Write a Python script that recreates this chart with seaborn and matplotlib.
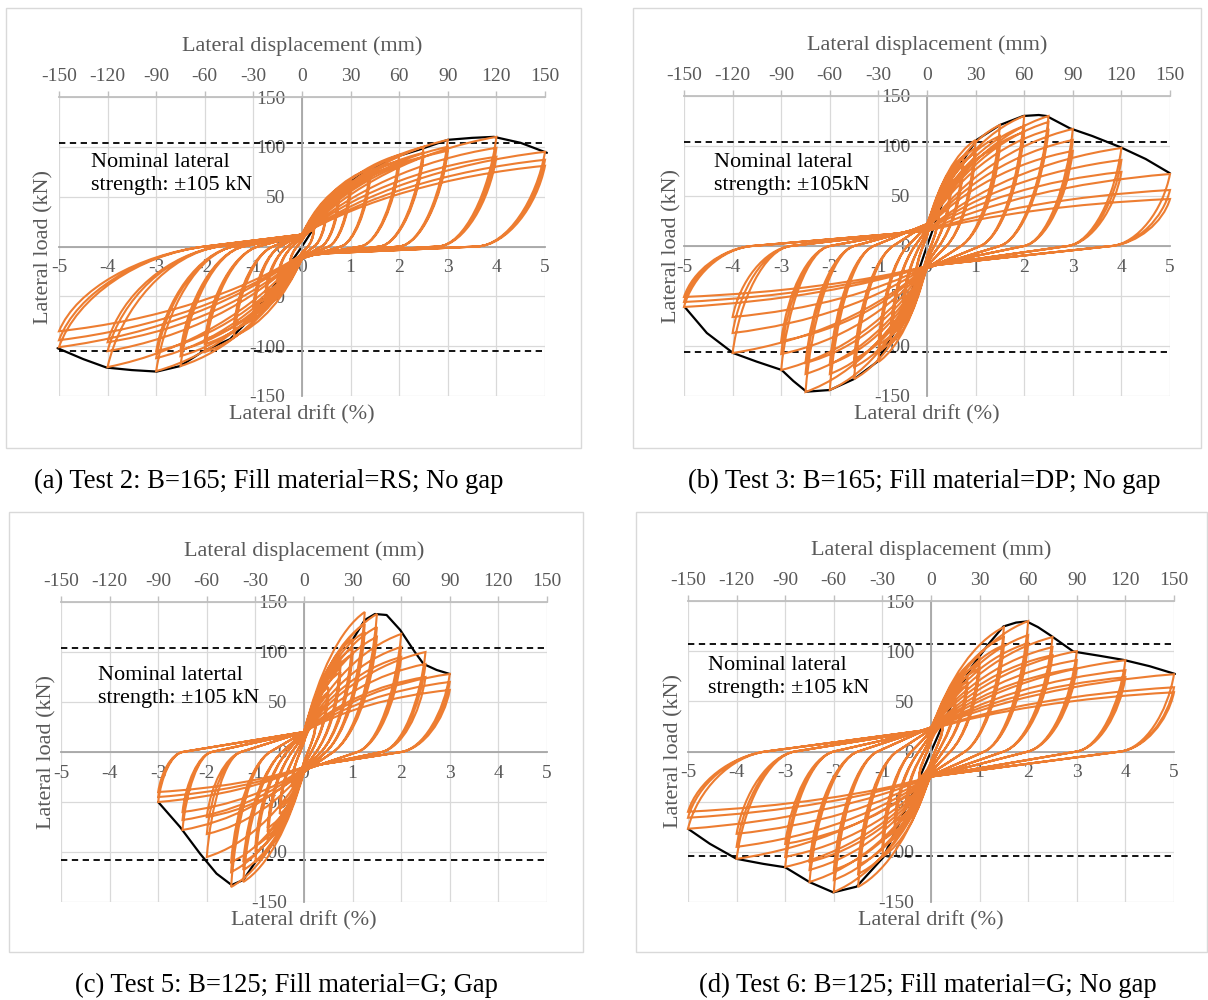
import numpy as np
import pandas as pd
import matplotlib
matplotlib.use("Agg")
import matplotlib.pyplot as plt
from matplotlib.path import Path
from matplotlib.patches import PathPatch, Rectangle
import seaborn as sns

# ---- data (drift in %, load in kN) ----
# three cycles per drift level; residual drift at zero load and load at zero drift per level

# (a) Test 2
a_levels = [0.25, 0.5, 0.75, 1.0, 1.4, 2.0, 2.5, 3.0, 4.0, 5.0]
a_pos_load = [20, 18, 17, 36, 33, 31, 50, 46, 43, 65, 60, 56, 78, 72, 68,
              92, 86, 82, 100, 94, 90, 107, 100, 96, 110, 99, 90, 95, 87, 81]
a_neg_load = [-18, -17, -16, -35, -32, -30, -52, -48, -45, -68, -62, -58, -90, -83, -78,
              -106, -98, -93, -120, -110, -104, -125, -112, -105, -121, -105, -96, -101, -94, -85]
a_res_pos = [0.12, 0.25, 0.4, 0.55, 0.8, 1.2, 1.6, 2.0, 2.8, 3.6]
a_res_neg = [-0.1, -0.2, -0.3, -0.45, -0.6, -0.9, -1.2, -1.4, -1.7, -2.0]
a_int_pos = [6, 9, 11, 12, 12, 12, 12, 12, 12, 12]
a_int_neg = [-6, -9, -11, -12, -12, -10, -10, -9, -8, -8]
a_env_pos_drift = [0, 0.5, 1.0, 1.4, 2.0, 2.4, 3.0, 3.5, 3.95, 4.5, 5.04]
a_env_pos_load = [0, 38, 65, 78, 91, 97, 107, 109, 110, 104, 94]
a_env_neg_drift = [0, -0.5, -1.14, -1.48, -2.03, -2.51, -2.99, -3.5, -4.02, -4.5, -5.03]
a_env_neg_load = [0, -35, -76, -93, -105, -120, -125.5, -124, -121.5, -113, -102]
a_nominal = [104, -104.5]

# (b) Test 3
b_levels = [0.25, 0.5, 0.75, 1.0, 1.5, 2.0, 2.5, 3.0, 4.0, 5.0]
b_pos_load = [40, 37, 35, 68, 63, 60, 90, 84, 80, 106, 98, 93, 121, 110, 100,
              130, 120, 114, 130, 124, 116, 117, 106, 95, 98, 86, 74, 72, 56, 47]
b_neg_load = [-42, -38, -36, -72, -66, -62, -98, -90, -85, -116, -106, -99, -133, -121, -113,
              -144, -128, -118, -146, -128, -117, -124, -108, -95, -107, -87, -71, -61, -56, -51]
b_res_pos = [0.08, 0.15, 0.25, 0.4, 0.7, 1.1, 1.5, 2.0, 2.9, 3.8]
b_res_neg = [-0.08, -0.15, -0.25, -0.4, -0.7, -1.1, -1.5, -2.0, -2.8, -3.6]
b_int_pos = [10, 14, 17, 20, 22, 22, 20, 18, 16, 15]
b_int_neg = [-10, -14, -17, -20, -22, -22, -22, -20, -20, -20]
b_env_pos_drift = [0, 0.5, 1.02, 1.5, 1.98, 2.3, 2.46, 2.94, 3.4, 3.97, 4.5, 5.0]
b_env_pos_load = [0, 68, 106, 121, 130, 131, 130, 117.7, 110, 99, 87, 72.7]
b_env_neg_drift = [0, -0.5, -1.03, -1.5, -2.0, -2.48, -2.75, -2.99, -3.5, -3.99, -4.53, -4.99]
b_env_neg_load = [0, -72, -116, -133, -144, -145.7, -135, -124, -115.7, -107, -87, -60.7]
b_nominal = [104, -106]

# (c) Test 5
c_levels = [0.25, 0.5, 0.75, 1.0, 1.25, 1.5, 2.0, 2.5, 3.0]
c_pos_load = [35, 32, 30, 65, 60, 57, 92, 85, 80, 113, 104, 98, 140, 128, 120,
              138, 125, 115, 118, 105, 95, 100, 88, 75, 78, 70, 62]
c_neg_load = [-35, -32, -30, -62, -57, -54, -88, -80, -76, -110, -100, -94, -130, -118, -110,
              -135, -120, -110, -105, -82, -65, -78, -68, -60, -50, -45, -40]
c_res_pos = [0.08, 0.15, 0.25, 0.35, 0.45, 0.6, 1.1, 1.6, 2.0]
c_res_neg = [-0.08, -0.15, -0.25, -0.35, -0.45, -0.7, -1.3, -1.9, -2.5]
c_int_pos = [10, 14, 17, 20, 20, 20, 20, 20, 20]
c_int_neg = [-10, -14, -17, -18, -20, -20, -18, -16, -15]
c_env_pos_drift = [1.01, 1.25, 1.46, 1.7, 1.98, 2.28, 2.46, 2.73, 3.0]
c_env_pos_load = [113, 132, 138, 137, 122, 100, 88, 82, 78]
c_env_neg_drift = [-1.0, -1.25, -1.49, -1.8, -2.14, -2.55, -3.0]
c_env_neg_load = [-110, -128, -133, -121.6, -101.6, -75, -50]
c_nominal = [104, -108]

# (d) Test 6
d_levels = [0.25, 0.5, 0.75, 1.0, 1.5, 2.0, 2.5, 3.0, 4.0, 5.0]
d_pos_load = [30, 28, 26, 55, 51, 48, 75, 70, 66, 95, 88, 83, 124, 114, 106,
              130, 116, 108, 114, 104, 96, 100, 91, 83, 91, 81, 74, 77, 64, 59]
d_neg_load = [-30, -28, -26, -55, -51, -48, -80, -74, -70, -105, -95, -88, -135, -122, -113,
              -140, -128, -118, -130, -118, -110, -115, -105, -92, -107, -95, -82, -77, -66, -60]
d_res_pos = [0.08, 0.15, 0.25, 0.4, 0.7, 1.1, 1.5, 2.0, 3.0, 3.9]
d_res_neg = [-0.08, -0.15, -0.25, -0.4, -0.7, -1.1, -1.5, -2.0, -2.8, -3.4]
d_int_pos = [10, 14, 17, 20, 22, 24, 24, 22, 22, 22]
d_int_neg = [-10, -14, -17, -20, -22, -24, -25, -25, -25, -25]
d_env_pos_drift = [0, 0.5, 0.84, 1.2, 1.49, 1.75, 1.97, 2.2, 2.45, 2.93, 3.48, 3.96, 4.5, 5.02]
d_env_pos_load = [0, 55, 84.6, 108, 124.6, 128.5, 129.6, 124, 116, 99.6, 95.3, 91.3, 85, 77.3]
d_env_neg_drift = [0, -0.5, -0.98, -1.53, -2.01, -2.49, -3.0, -3.45, -4.0, -4.55, -5.0]
d_env_neg_load = [0, -55, -105.4, -134.7, -140.4, -130.4, -115.4, -112, -107, -92, -77]
d_nominal = [107, -104]

drift_ticks = list(range(-5, 6))
load_ticks = list(range(-150, 151, 50))
disp_ticks = list(range(-150, 151, 30))

captions = ["(a) Test 2: B=165; Fill material=RS; No gap",
            "(b) Test 3: B=165; Fill material=DP; No gap",
            "(c) Test 5: B=125; Fill material=G; Gap",
            "(d) Test 6: B=125; Fill material=G; No gap"]
notes = ["Nominal lateral\nstrength: \u00b1105 kN",
         "Nominal lateral\nstrength: \u00b1105kN",
         "Nominal latertal\nstrength: \u00b1105 kN",
         "Nominal lateral\nstrength: \u00b1105 kN"]

# ---- layout (pixels of a 1208 x 1000 canvas) ----
W, H = 1208, 1000
ax_px = [(59, 97, 545, 396), (684, 96, 1170, 396), (61, 602, 547, 902), (688, 601, 1174, 902)]
frame_px = [(6, 8, 581, 448), (633, 8, 1201, 448), (9, 512, 583, 952), (636, 512, 1207, 952)]
caption_px = [(269, 481), (924, 481), (286, 985), (928, 985)]
note_pos = [(-4.34, 73), (-4.38, 72), (-4.24, 65), (-4.59, 74)]
ylabel_x = [-0.031, -0.026, -0.029, -0.030]

ORANGE = "#ED7D31"
GRAY_TXT = "#595959"

panels = [
    (a_levels, a_pos_load, a_neg_load, a_res_pos, a_res_neg, a_int_pos, a_int_neg,
     a_env_pos_drift, a_env_pos_load, a_env_neg_drift, a_env_neg_load, a_nominal),
    (b_levels, b_pos_load, b_neg_load, b_res_pos, b_res_neg, b_int_pos, b_int_neg,
     b_env_pos_drift, b_env_pos_load, b_env_neg_drift, b_env_neg_load, b_nominal),
    (c_levels, c_pos_load, c_neg_load, c_res_pos, c_res_neg, c_int_pos, c_int_neg,
     c_env_pos_drift, c_env_pos_load, c_env_neg_drift, c_env_neg_load, c_nominal),
    (d_levels, d_pos_load, d_neg_load, d_res_pos, d_res_neg, d_int_pos, d_int_neg,
     d_env_pos_drift, d_env_pos_load, d_env_neg_drift, d_env_neg_load, d_nominal),
]


def cycle_path(dp, fp, dn, fn, rp, rn, ip, ineg):
    """One pinched hysteresis cycle through the read peak / residual / intercept points."""
    verts = [(0, ip)]
    codes = [Path.MOVETO]
    # reload to positive peak
    verts += [(dp * 0.25, ip + (fp - ip) * 0.5), (dp * 0.6, ip + (fp - ip) * 0.86), (dp, fp)]
    codes += [Path.CURVE4] * 3
    # rounded unloading to zero load, then pinched branch through zero drift
    span = dp - rp
    slope = -ineg / rp
    verts += [(dp - span * 0.12, fp * 0.5), (rp + span * 0.45, span * 0.45 * slope), (rp, 0)]
    codes += [Path.CURVE4] * 3
    verts += [(0, ineg)]
    codes += [Path.LINETO]
    # reload to negative peak
    verts += [(dn * 0.25, ineg + (fn - ineg) * 0.5), (dn * 0.6, ineg + (fn - ineg) * 0.86), (dn, fn)]
    codes += [Path.CURVE4] * 3
    span = rn - dn
    slope = ip / -rn
    verts += [(dn + span * 0.12, fn * 0.5), (rn - span * 0.45, -span * 0.45 * slope), (rn, 0)]
    codes += [Path.CURVE4] * 3
    verts += [(0, ip)]
    codes += [Path.LINETO]
    return verts, codes


sns.set_theme(style="white")
plt.rcParams["font.family"] = ["Liberation Serif", "DejaVu Serif"]
plt.rcParams["axes.unicode_minus"] = False

fig = plt.figure(figsize=(W / 100, H / 100), dpi=100)

for i, p in enumerate(panels):
    (levels, pos_load, neg_load, res_pos, res_neg, int_pos, int_neg,
     epd, epl, end_, enl, nominal) = p

    fx0, fy0, fx1, fy1 = frame_px[i]
    fig.add_artist(Rectangle((fx0 / W, 1 - fy1 / H), (fx1 - fx0) / W, (fy1 - fy0) / H,
                             transform=fig.transFigure, fill=False,
                             edgecolor="#d9d9d9", lw=1.0))

    x0, y0, x1, y1 = ax_px[i]
    ax = fig.add_axes([x0 / W, 1 - y1 / H, (x1 - x0) / W, (y1 - y0) / H])
    ax.set_facecolor("none")
    ax.set_xlim(-5, 5)
    ax.set_ylim(-150, 150)
    ax.set_axisbelow(True)
    ax.grid(True, color="#d9d9d9", lw=0.9)

    # hysteresis loops
    verts, codes = [], []
    for k, lev in enumerate(levels):
        for j in range(3):
            idx = 3 * k + j
            v, c = cycle_path(lev, pos_load[idx], -lev, neg_load[idx],
                              res_pos[k], res_neg[k], int_pos[k], int_neg[k])
            verts += v
            codes += c
    ax.add_patch(PathPatch(Path(verts, codes), fill=False, edgecolor=ORANGE,
                           lw=1.5, zorder=3, clip_on=False))

    # backbone envelope
    env_pos = pd.DataFrame({"drift": epd, "load": epl})
    env_neg = pd.DataFrame({"drift": end_, "load": enl})
    for env in (env_pos, env_neg):
        sns.lineplot(data=env, x="drift", y="load", sort=False, estimator=None,
                     color="black", lw=1.6, ax=ax, zorder=2.5, clip_on=False)

    # nominal strength
    for lvl in nominal:
        ax.axhline(lvl, color="black", lw=1.3, ls=(0, (3.5, 2.5)), zorder=2.4)

    ax.text(note_pos[i][0], note_pos[i][1], notes[i], ha="left", va="center",
            fontsize=16, color="black", linespacing=1.3, zorder=4)

    # axes through the origin
    for s in ("top", "right"):
        ax.spines[s].set_visible(False)
    ax.spines["left"].set_position(("data", 0))
    ax.spines["bottom"].set_position(("data", 0))
    for s in ("left", "bottom"):
        ax.spines[s].set_color("#a6a6a6")
        ax.spines[s].set_linewidth(1.3)
    ax.set_xticks(drift_ticks)
    ax.set_yticks(load_ticks)
    ax.tick_params(axis="both", length=0, labelsize=14, labelcolor=GRAY_TXT)
    ax.tick_params(axis="y", pad=12)
    ax.tick_params(axis="x", pad=9)

    ax.set_xlabel("Lateral drift (%)", fontsize=16, color=GRAY_TXT, va="center")
    ax.xaxis.set_label_coords(0.5, -0.064)
    ax.set_ylabel("Lateral load (kN)", fontsize=16, color=GRAY_TXT, va="center")
    ax.yaxis.set_label_coords(ylabel_x[i], 0.5)

    # displacement axis on top
    top = ax.twiny()
    top.set_xlim(-150, 150)
    top.set_xticks(disp_ticks)
    for s in ("left", "right", "bottom"):
        top.spines[s].set_visible(False)
    top.spines["top"].set_color("#bfbfbf")
    top.spines["top"].set_linewidth(1.3)
    top.tick_params(axis="x", length=4.3, width=1.0, color="#bfbfbf",
                    labelsize=14, labelcolor=GRAY_TXT, pad=4)
    top.set_xlabel("Lateral displacement (mm)", fontsize=16, color=GRAY_TXT, va="center")
    top.xaxis.set_label_coords(0.5, 1.17)
    top.grid(False)

    cx, cy = caption_px[i]
    fig.text(cx / W, 1 - cy / H, captions[i], ha="center", va="center",
             fontsize=19.2, color="black")

fig.savefig("out.png", dpi=100)
